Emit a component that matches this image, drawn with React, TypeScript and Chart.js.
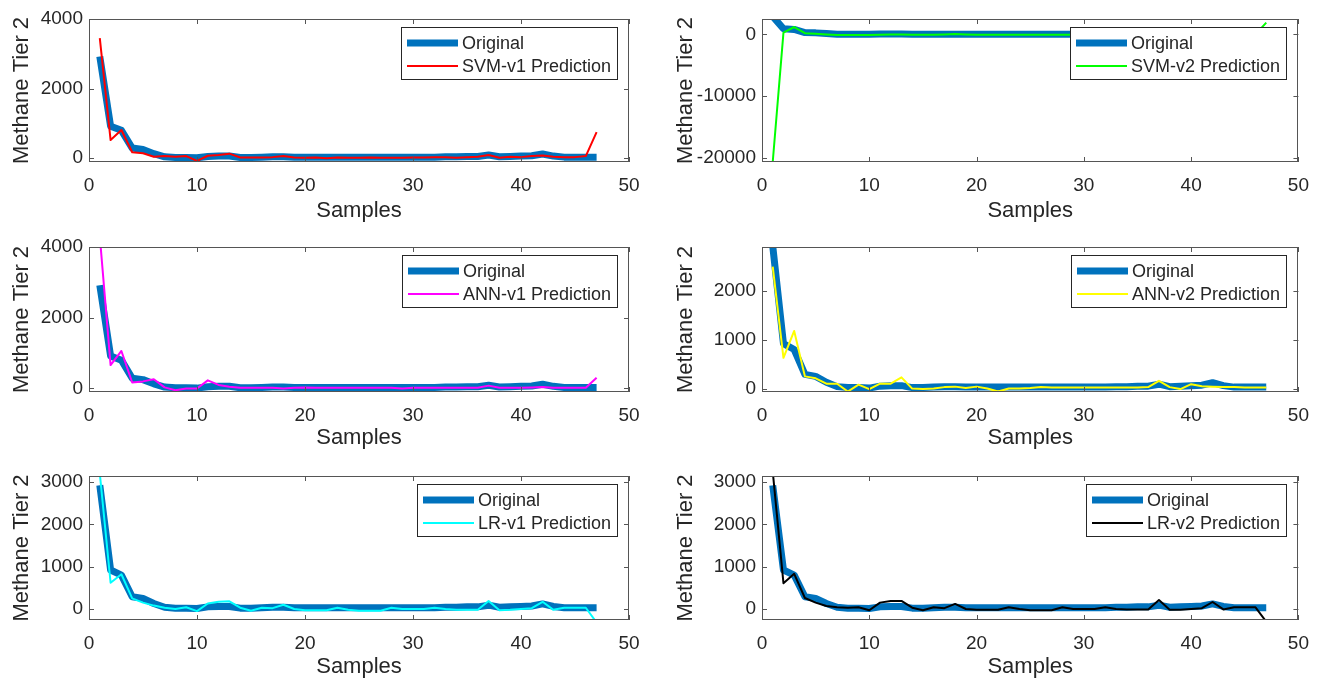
import React, { useEffect, useRef } from "react";
import { Chart, registerables } from "chart.js";

Chart.register(...registerables);

// ---------- data ----------
const samples = [1, 2, 3, 4, 5, 6, 7, 8, 9, 10, 11, 12, 13, 14, 15, 16, 17, 18, 19, 20, 21, 22, 23, 24, 25, 26, 27, 28, 29, 30, 31, 32, 33, 34, 35, 36, 37, 38, 39, 40, 41, 42, 43, 44, 45, 46, 47];

const original = [2920, 920, 800, 290, 250, 130, 40, 20, 20, 10, 50, 60, 60, 20, 20, 30, 40, 40, 30, 30, 30, 30, 30, 30, 30, 30, 30, 30, 30, 30, 30, 30, 40, 40, 50, 50, 90, 40, 50, 60, 70, 120, 60, 30, 30, 30, 30];

const svmV1 = [3450, 520, 810, 170, 140, 40, 60, 40, 60, -80, 70, 90, 130, 20, 20, 20, 30, 60, 20, 10, 20, 0, 20, 10, 10, 20, 10, 10, 10, 20, 20, 30, 30, 10, 30, 40, 90, 10, 40, 30, 60, 80, 40, 30, 30, 60, 750];

const svmV2 = [-20700, 300, 1200, 200, 100, 0, -100, -100, -80, -100, -50, 0, 0, -50, -40, -50, 0, 50, 0, -50, -40, -50, -60, -50, -40, -50, -50, -60, -50, -40, -50, -50, -40, -50, -60, -50, -30, -50, -50, -40, -50, -40, -50, -50, -50, 0, 1900];

const annV1 = [4300, 660, 1060, 170, 200, 260, 30, -50, 0, 0, 230, 100, 50, 20, 20, 20, 20, 0, 20, 30, 20, 20, 20, 20, 20, 20, 20, 20, 0, 20, 20, 20, 20, 20, 20, 20, 80, 20, 20, 20, 30, 40, 20, 20, 20, 20, 300];

const annV2 = [2500, 630, 1180, 250, 210, 100, 100, -60, 80, -10, 100, 100, 230, 0, -10, 0, 30, 40, 10, 40, 0, -60, 0, 0, 10, 30, 20, 20, 20, 20, 20, 20, 20, 20, 20, 30, 160, 30, -10, 90, 50, 40, 30, 30, 20, 20, 20];

const lrV1 = [3200, 620, 820, 250, 150, 80, 30, 0, 40, -50, 130, 170, 180, 30, -40, 30, 20, 100, 0, -30, -30, -30, 30, -20, -40, -40, -40, 30, 0, 0, 0, 30, 0, -20, -20, -20, 190, -30, -20, 0, 20, 170, -20, 30, 30, 30, -320];

const lrV2 = [3250, 610, 830, 260, 150, 70, 40, 30, 40, -30, 150, 190, 190, 30, -30, 40, 20, 120, 0, -20, -20, -20, 40, 0, -30, -30, -30, 40, 0, 0, 0, 40, 0, -10, -10, -10, 210, -20, -20, 0, 20, 165, -10, 40, 40, 40, -300];

const xTicks = [0, 10, 20, 30, 40, 50];
const yTicksA = [0, 2000, 4000];
const yTicksB = [-20000, -10000, 0];
const yTicksC = [0, 1000, 2000];
const yTicksD = [0, 1000, 2000, 3000];

const xTitle = "Samples";
const yTitle = "Methane Tier 2";
const originalLabel = "Original";

// ---------- styling / layout ----------
const FONT = '"Liberation Sans", Arial, Helvetica, sans-serif';
const TEXT = "#262626";
const BLUE = "#0072BD";

const colX = [0, 660];
const colW = [660, 661];
const plotL = [89, 762];
const plotR = [629, 1299];
const rowY = [0, 227, 454];
const rowH = 227;
const plotT = [19, 247, 476];
const plotB = [162, 392, 620];
const xTitlePad = [3, 3, 1];
const yTitlePad = [9, 13];
const TICK_SIZE = 19;
const TITLE_SIZE = 22;
const LEGEND_SIZE = 18;

type PanelCfg = {
  row: number;
  col: number;
  pred: number[];
  label: string;
  color: string;
  yMin: number;
  yMax: number;
  yTicks: number[];
};

const panels: PanelCfg[] = [
  { row: 0, col: 0, pred: svmV1, label: "SVM-v1 Prediction", color: "#FF0000", yMin: -110, yMax: 4000, yTicks: yTicksA },
  { row: 0, col: 1, pred: svmV2, label: "SVM-v2 Prediction", color: "#00FF00", yMin: -20700, yMax: 2500, yTicks: yTicksB },
  { row: 1, col: 0, pred: annV1, label: "ANN-v1 Prediction", color: "#FF00FF", yMin: -100, yMax: 4000, yTicks: yTicksA },
  { row: 1, col: 1, pred: annV2, label: "ANN-v2 Prediction", color: "#FFFF00", yMin: -70, yMax: 2900, yTicks: yTicksC },
  { row: 2, col: 0, pred: lrV1, label: "LR-v1 Prediction", color: "#00FFFF", yMin: -260, yMax: 3140, yTicks: yTicksD },
  { row: 2, col: 1, pred: lrV2, label: "LR-v2 Prediction", color: "#000000", yMin: -260, yMax: 3140, yTicks: yTicksD },
];

const matlabPlugin = {
  id: "matlabDecor",
  afterDraw(chart: any) {
    const { ctx, chartArea, scales } = chart;
    const { left, top, right, bottom } = chartArea;
    const xs = scales.x;
    const ys = scales.y;
    ctx.save();
    // box
    ctx.strokeStyle = "#555555";
    ctx.lineWidth = 1;
    ctx.strokeRect(Math.round(left) + 0.5, Math.round(top) + 0.5, Math.round(right - left) - 1, Math.round(bottom - top) - 1);
    // inward ticks
    const tl = 5;
    ctx.beginPath();
    xs.ticks.forEach((t: any) => {
      const px = Math.round(xs.getPixelForValue(t.value)) + 0.5;
      ctx.moveTo(px, bottom);
      ctx.lineTo(px, bottom - tl);
      ctx.moveTo(px, top);
      ctx.lineTo(px, top + tl);
    });
    ys.ticks.forEach((t: any) => {
      const py = Math.round(ys.getPixelForValue(t.value)) + 0.5;
      ctx.moveTo(left, py);
      ctx.lineTo(left + tl, py);
      ctx.moveTo(right, py);
      ctx.lineTo(right - tl, py);
    });
    ctx.stroke();

    // legend
    const dsets = chart.data.datasets;
    const items = [dsets[0], dsets[1]];
    ctx.font = `${LEGEND_SIZE}px ${FONT}`;
    const textW = Math.max(...items.map((d: any) => ctx.measureText(d.label).width));
    const padL = 6;
    const lineLen = 51;
    const gap = 4;
    const padR = 6;
    const w = Math.round(padL + lineLen + gap + textW + padR);
    const h = 52;
    const x0 = Math.round(right - 12 - w);
    const y0 = Math.round(top + 8);
    ctx.fillStyle = "#ffffff";
    ctx.fillRect(x0, y0, w, h);
    ctx.strokeStyle = "#262626";
    ctx.lineWidth = 1;
    ctx.strokeRect(x0 + 0.5, y0 + 0.5, w, h);
    const rows = [y0 + 16, y0 + 39];
    items.forEach((d: any, i: number) => {
      ctx.strokeStyle = d.borderColor;
      ctx.lineWidth = d.borderWidth;
      ctx.beginPath();
      ctx.moveTo(x0 + padL, rows[i]);
      ctx.lineTo(x0 + padL + lineLen, rows[i]);
      ctx.stroke();
      ctx.fillStyle = TEXT;
      ctx.textBaseline = "middle";
      ctx.textAlign = "left";
      ctx.fillText(d.label, x0 + padL + lineLen + gap, rows[i] + 1);
    });
    ctx.restore();
  },
};

function Panel({ cfg }: { cfg: PanelCfg }) {
  const ref = useRef<HTMLCanvasElement>(null);
  const cx = colX[cfg.col];
  const cw = colW[cfg.col];
  const cy = rowY[cfg.row];
  const ch = rowH;

  useEffect(() => {
    const canvas = ref.current;
    if (!canvas) return;
    const chart = new Chart(canvas, {
      type: "line",
      data: {
        datasets: [
          {
            label: originalLabel,
            data: samples.map((s, i) => ({ x: s, y: original[i] })),
            borderColor: BLUE,
            backgroundColor: BLUE,
            borderWidth: 7,
            order: 2,
            clip: 0,
          },
          {
            label: cfg.label,
            data: samples.map((s, i) => ({ x: s, y: cfg.pred[i] })),
            borderColor: cfg.color,
            backgroundColor: cfg.color,
            borderWidth: 2,
            order: 1,
            clip: 0,
          },
        ],
      },
      options: {
        animation: false,
        responsive: false,
        maintainAspectRatio: false,
        devicePixelRatio: 1,
        events: [],
        parsing: false as any,
        layout: {
          padding: { left: 0, top: plotT[cfg.row] - cy, right: cx + cw - plotR[cfg.col], bottom: 0 },
        },
        elements: {
          point: { radius: 0 },
          line: { tension: 0, borderJoinStyle: "round", borderCapStyle: "butt" },
        },
        plugins: {
          legend: { display: false },
          tooltip: { enabled: false },
        },
        scales: {
          x: {
            type: "linear",
            min: 0,
            max: 50,
            grid: { display: false, drawTicks: false },
            border: { display: false },
            afterBuildTicks: (s: any) => {
              s.ticks = xTicks.map((v) => ({ value: v }));
            },
            afterFit: (s: any) => {
              s.height = cy + ch - plotB[cfg.row];
            },
            ticks: {
              color: TEXT,
              font: { family: FONT, size: TICK_SIZE },
              padding: 12,
              maxRotation: 0,
              autoSkip: false,
            },
            title: {
              display: true,
              text: xTitle,
              color: TEXT,
              font: { family: FONT, size: TITLE_SIZE },
              padding: { top: 0, bottom: xTitlePad[cfg.row] },
            },
          },
          y: {
            type: "linear",
            min: cfg.yMin,
            max: cfg.yMax,
            grid: { display: false, drawTicks: false },
            border: { display: false },
            afterBuildTicks: (s: any) => {
              s.ticks = cfg.yTicks.map((v) => ({ value: v }));
            },
            afterFit: (s: any) => {
              s.width = plotL[cfg.col] - cx;
            },
            ticks: {
              color: TEXT,
              font: { family: FONT, size: TICK_SIZE },
              padding: 6,
              autoSkip: false,
              callback: (v: any) => String(v),
            },
            title: {
              display: true,
              text: yTitle,
              color: TEXT,
              font: { family: FONT, size: TITLE_SIZE },
              padding: { top: yTitlePad[cfg.col], bottom: 0 },
            },
          },
        },
      },
      plugins: [matlabPlugin],
    } as any);
    return () => chart.destroy();
  }, []);

  return (
    <canvas
      ref={ref}
      width={cw}
      height={ch}
      style={{ position: "absolute", left: cx, top: cy, width: cw, height: ch, display: "block" }}
    />
  );
}

export default function App() {
  return (
    <div
      style={{
        position: "absolute",
        left: 0,
        top: 0,
        width: 1321,
        height: 681,
        background: "#ffffff",
        overflow: "hidden",
      }}
    >
      {panels.map((p, i) => (
        <Panel key={i} cfg={p} />
      ))}
    </div>
  );
}
